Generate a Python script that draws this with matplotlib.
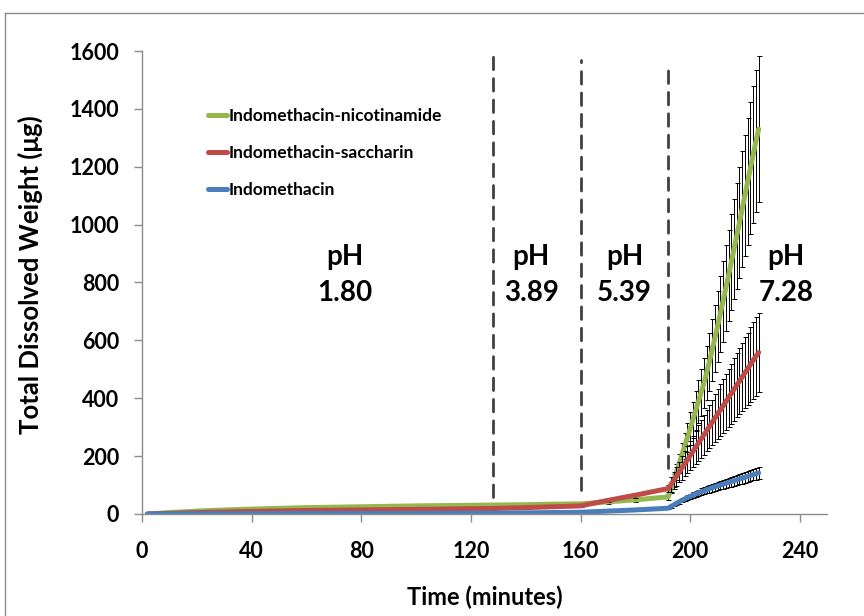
import numpy as np
import matplotlib.pyplot as plt
from matplotlib.lines import Line2D

plt.rcParams['font.family'] = ['Lato', 'DejaVu Sans']
plt.rcParams['font.weight'] = 'bold'

# sampling times (minutes): sparse early, every minute in the last stage
time = [2, 10, 20, 30, 40, 60, 80, 100, 120, 128, 140, 150, 160, 170, 180, 192] + list(range(193, 226))

# Indomethacin-nicotinamide
nic_mean = [0, 5, 10, 14, 17, 22, 25, 28, 30, 31, 32, 34, 35, 42, 49, 59,
            88, 117, 146, 175, 205, 235, 265, 295, 326, 357, 388, 420, 452,
            488, 526, 566, 607, 649, 692, 736, 780, 825, 870,
            916, 962, 1008, 1055, 1102, 1149, 1196, 1243, 1288, 1330]
nic_err = [0, 2, 3, 3, 4, 4, 5, 5, 5, 5, 6, 6, 6, 7, 8, 10,
           17, 22, 28, 33, 39, 45, 50, 56, 62, 68, 74, 80, 86,
           93, 100, 108, 115, 123, 131, 140, 148, 157, 165,
           174, 183, 192, 200, 209, 218, 227, 236, 245, 252]

# Indomethacin-saccharin
sac_mean = [0, 2, 5, 7, 9, 12, 14, 16, 18, 19, 22, 25, 28, 47, 65, 88,
            102, 116, 130, 145, 159, 173, 187, 202, 216, 230, 245, 259, 273,
            288, 302, 316, 331, 345, 359, 373, 388, 402, 416,
            431, 445, 459, 474, 488, 502, 517, 531, 545, 558]
sac_err = [0, 1, 2, 2, 2, 3, 3, 3, 4, 4, 4, 5, 5, 7, 9, 12,
           25, 29, 32, 36, 40, 43, 47, 50, 54, 57, 61, 65, 68,
           72, 75, 79, 83, 86, 90, 93, 97, 100, 104,
           108, 111, 115, 118, 122, 125, 129, 133, 136, 138]

# Indomethacin
ind_mean = [0, 0, 1, 1, 1, 2, 2, 2, 3, 3, 4, 5, 6, 10, 14, 20,
            26, 31, 37, 42, 47, 52, 57, 61, 65, 69, 73, 77, 80,
            84, 87, 91, 94, 97, 100, 103, 106, 109, 112,
            115, 118, 121, 124, 127, 130, 133, 136, 139, 142]
ind_err = [0, 0, 0, 0, 0, 1, 1, 1, 1, 1, 1, 1, 1, 2, 2, 3,
           4, 5, 6, 6, 7, 8, 9, 9, 10, 10, 11, 12, 12,
           13, 13, 14, 14, 15, 15, 15, 16, 16, 17,
           17, 18, 18, 19, 19, 20, 20, 20, 21, 22]

series = [
    ("Indomethacin-nicotinamide", nic_mean, nic_err, "#94B84E"),
    ("Indomethacin-saccharin", sac_mean, sac_err, "#BE4B48"),
    ("Indomethacin", ind_mean, ind_err, "#4A7EBB"),
]

# pH change markers and labels
divider_x = [128, 160, 192]
divider_top = [1597, 1569, 1558]
divider_bottom = [59, 83, 159]
ph_labels = ["pH\n1.80", "pH\n3.89", "pH\n5.39", "pH\n7.28"]
ph_x = [74, 142, 176, 235]
ph_y = [826, 826, 826, 826]

fig = plt.figure(figsize=(8.64, 6.16), dpi=100)
ax = fig.add_axes([0.1644, 0.1656, 0.793, 0.7516])

for label, mean, err, color in series:
    ax.errorbar(time, mean, yerr=err, fmt='none', ecolor='black',
                elinewidth=0.7, capsize=1.8, capthick=0.7)
    ax.plot(time, mean, color=color, lw=3.6, label=label,
            solid_capstyle='round', solid_joinstyle='round')

ax.vlines(divider_x, divider_bottom, divider_top, colors='#404040',
          linestyles=(0, (4.5, 3.2)), lw=2)
ax.collections[-1].set_capstyle('round')

for txt, x, y in zip(ph_labels, ph_x, ph_y):
    ax.text(x, y, txt, ha='center', va='center', fontsize=20,
            fontweight='bold', linespacing=1.45)

ax.set_xlim(0, 250)
ax.set_ylim(0, 1600)
ax.set_xticks(np.arange(0, 241, 40))
ax.set_yticks(np.arange(0, 1601, 200))
ax.tick_params(axis='both', direction='out', length=5.5, width=1,
               color='#8c8c8c', labelsize=15.5)
ax.tick_params(axis='y', pad=11)
ax.tick_params(axis='x', pad=14)
for lab in ax.get_xticklabels() + ax.get_yticklabels():
    lab.set_fontweight('bold')

for side in ['top', 'right']:
    ax.spines[side].set_visible(False)
for side in ['left', 'bottom']:
    ax.spines[side].set_color('#8c8c8c')
    ax.spines[side].set_linewidth(1)

ax.set_xlabel("Time (minutes)", fontsize=17, fontweight='bold')
ax.set_ylabel("Total Dissolved Weight (\u03bcg)", fontsize=18.5, fontweight='bold')
ax.xaxis.set_label_coords(0.5, -0.155)
ax.yaxis.set_label_coords(-0.145, 0.517)

ax.legend(loc='upper left', bbox_to_anchor=(0.073, 0.91), frameon=False,
          handlelength=1.1, handletextpad=0.1, labelspacing=1.2,
          prop={'weight': 'bold', 'size': 12.5})

# chart border (top and left edges visible)
fig.add_artist(Line2D([5 / 864, 1], [1 - 13 / 616, 1 - 13 / 616],
                      color='#8c8c8c', lw=1, transform=fig.transFigure))
fig.add_artist(Line2D([5 / 864, 5 / 864], [0, 1 - 13 / 616],
                      color='#8c8c8c', lw=1, transform=fig.transFigure))

fig.savefig("out.png", dpi=100)
